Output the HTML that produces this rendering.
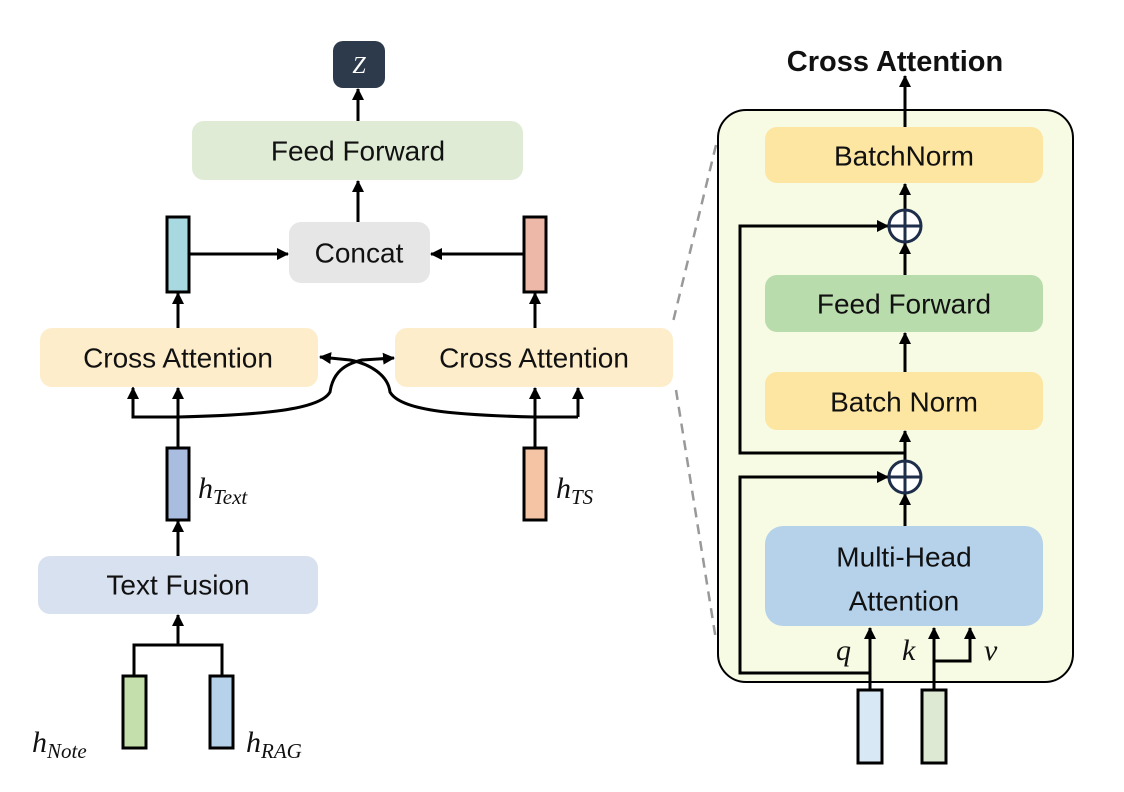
<!DOCTYPE html>
<html><head><meta charset="utf-8"><style>
html,body{margin:0;padding:0;background:#fff;}
svg{display:block;}
text{font-family:"Liberation Sans",sans-serif;}
.t{font-size:28px;fill:#111;text-anchor:middle;dominant-baseline:central;}
.m{font-family:"Liberation Serif",serif;font-style:italic;fill:#111;}
</style></head><body>
<svg width="1124" height="792" viewBox="0 0 1124 792" xmlns="http://www.w3.org/2000/svg">
<defs>
<marker id="a" viewBox="0 0 12 12" refX="11" refY="6" markerWidth="12" markerHeight="12" orient="auto" markerUnits="userSpaceOnUse">
<path d="M0,0 L12,6 L0,12 z" fill="#000"/>
</marker>
</defs>
<g stroke="#000" stroke-width="3" fill="none">
<line x1="358" y1="121" x2="358" y2="89" marker-end="url(#a)"/>
<line x1="358" y1="222" x2="358" y2="181" marker-end="url(#a)"/>
<line x1="189" y1="254" x2="288" y2="254" marker-end="url(#a)"/>
<line x1="524" y1="254" x2="431" y2="254" marker-end="url(#a)"/>
<line x1="178" y1="328" x2="178" y2="293" marker-end="url(#a)"/>
<line x1="535" y1="328" x2="535" y2="293" marker-end="url(#a)"/>
<line x1="178" y1="448" x2="178" y2="388" marker-end="url(#a)"/>
<line x1="535" y1="448" x2="535" y2="388" marker-end="url(#a)"/>
<polyline points="133,388 133,417 178,417" marker-start="url(#a)"/>
<line x1="133" y1="410" x2="133" y2="388" marker-end="url(#a)"/>
<polyline points="578,417 535,417"/>
<line x1="578" y1="417" x2="578" y2="388" marker-end="url(#a)"/>
<path d="M178,417 C260,415 320,410 330,392 C333,372 345,364 362,360 L394,358" marker-end="url(#a)"/>
<path d="M535,417 C450,415 400,410 390,392 C388,375 370,364 350,360 L320,357" marker-end="url(#a)"/>
<line x1="178" y1="556" x2="178" y2="521" marker-end="url(#a)"/>
<line x1="178" y1="645" x2="178" y2="615" marker-end="url(#a)"/>
<polyline points="134,676 134,645 222,645 222,676"/>
</g>
<g stroke="#999" stroke-width="2.5" stroke-dasharray="10,7" fill="none">
<line x1="716" y1="145" x2="672" y2="326"/>
<line x1="676" y1="390" x2="716" y2="640"/>
</g>
<rect x="333" y="41" width="52" height="47" rx="10" fill="#2c3a4b"/>
<text x="359" y="66" class="m" font-size="24" style="fill:#fff" text-anchor="middle" dominant-baseline="central">Z</text>
<rect x="192" y="121" width="331" height="59" rx="12" fill="#dfebd4"/>
<text x="358" y="151" class="t">Feed Forward</text>
<rect x="289" y="222" width="141" height="61" rx="12" fill="#e6e6e6"/>
<text x="359" y="253" class="t">Concat</text>
<rect x="167" y="217" width="22" height="75" fill="#a8d8e0" stroke="#000" stroke-width="3"/>
<rect x="524" y="217" width="22" height="75" fill="#eeb8a8" stroke="#000" stroke-width="3"/>
<rect x="40" y="328" width="278" height="59" rx="12" fill="#fdedcb"/>
<text x="178" y="358" class="t">Cross Attention</text>
<rect x="395" y="328" width="278" height="59" rx="12" fill="#fdedcb"/>
<text x="534" y="358" class="t">Cross Attention</text>
<rect x="167" y="448" width="22" height="72" fill="#a8bde0" stroke="#000" stroke-width="3"/>
<rect x="524" y="448" width="22" height="72" fill="#f5c4a4" stroke="#000" stroke-width="3"/>
<text x="198" y="498" class="m" font-size="30">h<tspan font-size="21" dy="6">Text</tspan></text>
<text x="556" y="498" class="m" font-size="30">h<tspan font-size="21" dy="6">TS</tspan></text>
<rect x="38" y="556" width="280" height="58" rx="12" fill="#d8e1ef"/>
<text x="178" y="585" class="t">Text Fusion</text>
<rect x="123" y="676" width="23" height="72" fill="#c4dfac" stroke="#000" stroke-width="3"/>
<rect x="210" y="676" width="23" height="72" fill="#b6d2ea" stroke="#000" stroke-width="3"/>
<text x="32" y="752" class="m" font-size="30">h<tspan font-size="21" dy="6">Note</tspan></text>
<text x="246" y="752" class="m" font-size="30">h<tspan font-size="21" dy="6">RAG</tspan></text>
<text x="895" y="62" text-anchor="middle" dominant-baseline="central" font-size="29" font-weight="bold" fill="#111">Cross Attention</text>
<rect x="718" y="110" width="355" height="572" rx="28" fill="#f7fbe3" stroke="#000" stroke-width="2"/>
<g stroke="#000" stroke-width="3" fill="none">
<line x1="905" y1="127" x2="905" y2="76" marker-end="url(#a)"/>
<line x1="905" y1="210" x2="905" y2="184" marker-end="url(#a)"/>
<line x1="905" y1="275" x2="905" y2="243" marker-end="url(#a)"/>
<line x1="905" y1="372" x2="905" y2="333" marker-end="url(#a)"/>
<line x1="905" y1="461" x2="905" y2="431" marker-end="url(#a)"/>
<line x1="905" y1="526" x2="905" y2="494" marker-end="url(#a)"/>
<polyline points="905,453 740,453 740,226 888,226" marker-end="url(#a)"/>
<polyline points="870,673 740,673 740,477 888,477" marker-end="url(#a)"/>
<line x1="870" y1="690" x2="870" y2="628" marker-end="url(#a)"/>
<line x1="934" y1="690" x2="934" y2="628" marker-end="url(#a)"/>
<polyline points="934,661 970,661 970,628" marker-end="url(#a)"/>
</g>
<rect x="765" y="127" width="278" height="56" rx="12" fill="#fde5a2"/>
<text x="904" y="156" class="t">BatchNorm</text>
<rect x="765" y="275" width="278" height="57" rx="12" fill="#b9dcad"/>
<text x="904" y="304" class="t">Feed Forward</text>
<rect x="765" y="372" width="278" height="58" rx="12" fill="#fde5a2"/>
<text x="904" y="402" class="t">Batch Norm</text>
<rect x="765" y="526" width="278" height="100" rx="18" fill="#b5d2ea"/>
<text x="904" y="557" class="t">Multi-Head</text>
<text x="904" y="601" class="t">Attention</text>
<g stroke="#1e2d4a" stroke-width="3" fill="#fff">
<circle cx="905" cy="226" r="16"/>
<circle cx="905" cy="477" r="16"/>
<path d="M889,226 H921 M905,210 V242 M889,477 H921 M905,461 V493" fill="none"/>
</g>
<text x="836" y="660" class="m" font-size="30">q</text>
<text x="902" y="660" class="m" font-size="30">k</text>
<text x="984" y="660" class="m" font-size="30">v</text>
<rect x="858" y="690" width="24" height="73" fill="#d9e8f5" stroke="#000" stroke-width="3"/>
<rect x="922" y="690" width="24" height="73" fill="#dde9d3" stroke="#000" stroke-width="3"/>
</svg>
</body></html>
